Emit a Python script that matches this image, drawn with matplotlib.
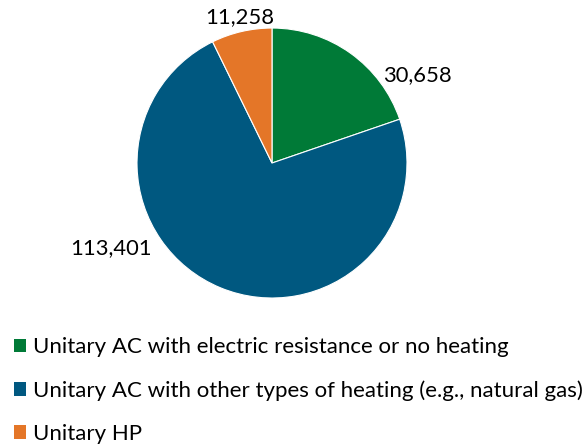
import matplotlib.pyplot as plt
from matplotlib.patches import Patch

plt.rcParams['font.family'] = ['Lato', 'DejaVu Sans']

categories = ["Unitary AC with electric resistance or no heating",
              "Unitary AC with other types of heating (e.g., natural gas)",
              "Unitary HP"]
values = [30658, 113401, 11258]
colors = ["#007a37", "#005880", "#e47628"]
# label spots picked to match the original placement
label_pos = [(1.08, 0.65), (-1.19, -0.63), (-0.24, 1.08)]

fig = plt.figure(figsize=(5.82, 4.45), dpi=100)
ax = fig.add_axes([0.2354, 0.3303, 0.4639, 0.6067])
ax.pie(values, colors=colors, startangle=90, counterclock=False, radius=1,
       wedgeprops=dict(edgecolor="white", linewidth=0.8))
ax.set_xlim(-1, 1)
ax.set_ylim(-1, 1)
ax.set_aspect("equal")

for v, (x, y) in zip(values, label_pos):
    ax.text(x, y, f"{v:,}", ha="center", va="center", fontsize=15.8, color="black")

handles = [Patch(facecolor=c, edgecolor="none") for c in colors]
fig.legend(handles, categories, loc="upper left", bbox_to_anchor=(0.008, 0.262),
           frameon=False, fontsize=16, handlelength=0.56, handleheight=0.56,
           handletextpad=0.3, labelspacing=1.03, borderaxespad=0)

fig.savefig("out.png", dpi=100)
